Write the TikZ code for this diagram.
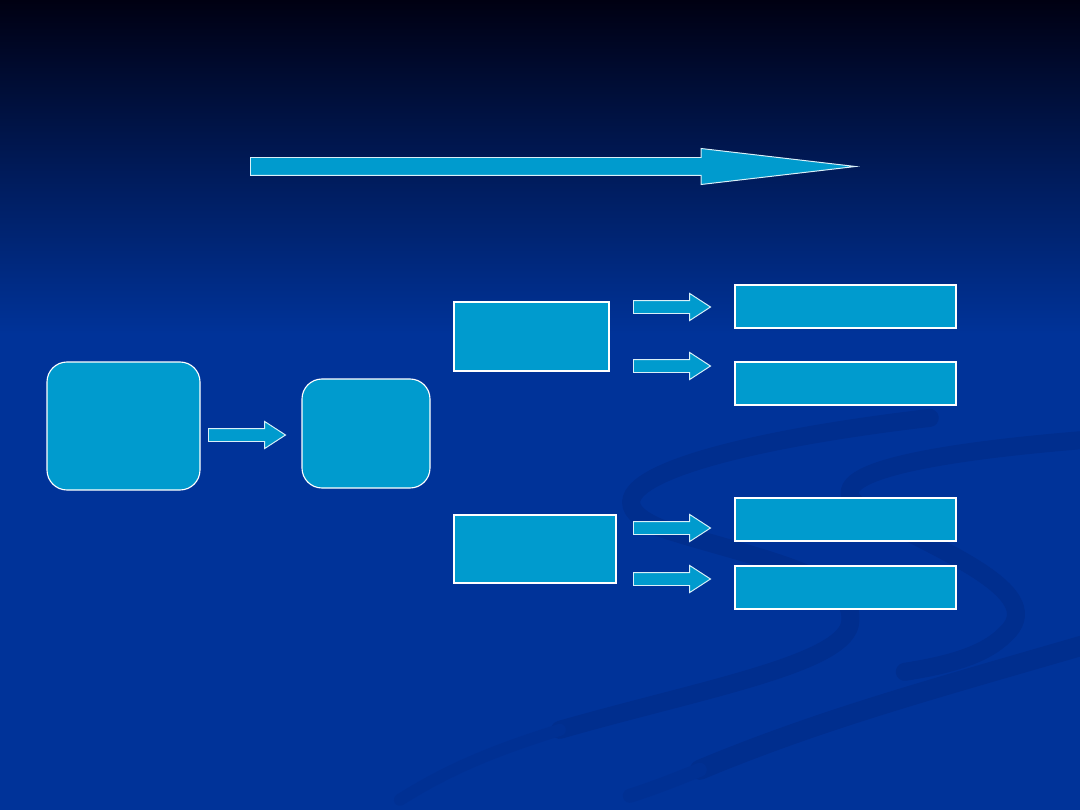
\documentclass[tikz,border=0pt]{standalone}
\usepackage{tikz}
\usepackage{xcolor}
\usetikzlibrary{shapes.arrows, positioning, calc}
\definecolor{slidetop}{RGB}{0,0,18}
\definecolor{slidemid}{RGB}{0,26,88}
\definecolor{slideblue}{RGB}{0,51,153}
\definecolor{swirlblue}{RGB}{0,46,142}
\definecolor{swirlfaint}{RGB}{0,48,147}
\definecolor{boxcyan}{RGB}{0,155,206}

\begin{document}
\begin{tikzpicture}[
        rbox/.style={draw=white, fill=boxcyan, line width=0.8pt, rounded corners=0.5cm,
                     inner sep=0pt},
        sbox/.style={draw=white, fill=boxcyan, line width=0.8pt, inner sep=0pt},
        fatarr/.style={single arrow, draw=white!85!boxcyan, fill=boxcyan, line width=0.7pt,
                       inner xsep=0pt, inner ysep=0.15cm, minimum height=1.925cm, anchor=tail,
                       single arrow head extend=0.175cm, single arrow tip angle=66},
        swirl/.style={draw=swirlblue, line cap=round}
      ]
        % background
        \useasboundingbox (0,0) rectangle (27,20.25);
        \fill[slideblue] (0,0) rectangle (27,20.25);
        \shade[top color=slidetop, bottom color=slideblue, middle color=slidemid]
          (0,11.9) rectangle (27,20.25);
        \begin{scope}
          \clip (0,0) rectangle (27,20.25);
          \begin{scope}[shift={(0,20.25)}, x=0.025cm, y=-0.025cm]
            \draw[swirl, line width=0.45cm] (930,418) .. controls (700,445) and (570,490) .. (660,528)
              .. controls (760,560) and (860,575) .. (850,625) .. controls (840,665) and (700,690) .. (560,730);
            \draw[swirl, draw=swirlfaint, line width=0.3cm] (560,730) .. controls (480,755) and (440,775) .. (400,800);
            \draw[swirl, line width=0.45cm] (1085,440) .. controls (900,455) and (800,480) .. (875,515)
              .. controls (950,555) and (1050,595) .. (1005,635) .. controls (985,655) and (950,665) .. (905,672);
            \draw[swirl, line width=0.5cm] (1085,645) .. controls (930,690) and (820,720) .. (700,770);
            \draw[swirl, draw=swirlfaint, line width=0.35cm] (700,770) .. controls (675,780) and (655,788) .. (630,796);
          \end{scope}
        \end{scope}

        % timeline arrow
        \node[single arrow, draw=white!85!boxcyan, fill=boxcyan, line width=0.7pt, anchor=tail,
              inner xsep=0pt, inner ysep=0.2125cm, minimum height=15.125cm,
              single arrow head extend=0.225cm, single arrow tip angle=13.3] (time) at (6.25,16.0875) {};

        \node[rbox, minimum width=3.825cm, minimum height=3.2cm] (src) at (3.0875,9.6) {};
        \node[rbox, minimum width=3.2cm, minimum height=2.725cm] (mid) at (9.15,9.4125) {};
        \node[sbox, minimum width=3.875cm, minimum height=1.725cm] (up) at (13.2875,11.8375) {};
        \node[sbox, minimum width=4.05cm, minimum height=1.7cm] (low) at (13.375,6.525) {};
        \node[sbox, minimum width=5.525cm, minimum height=1.075cm] (outa) at (21.1375,12.5875) {};
        \node[sbox, minimum width=5.525cm, minimum height=1.075cm] (outb) at (21.1375,10.6625) {};
        \node[sbox, minimum width=5.525cm, minimum height=1.075cm] (outc) at (21.1375,7.2625) {};
        \node[sbox, minimum width=5.525cm, minimum height=1.075cm] (outd) at (21.1375,5.5625) {};

        \node[fatarr] (srcmid) at (5.2,9.375) {};
        \node[fatarr] (upa) at (15.825,12.575) {};
        \node[fatarr] (upb) at (15.825,11.1) {};
        \node[fatarr] (lowc) at (15.825,7.05) {};
        \node[fatarr] (lowd) at (15.825,5.775) {};
      \end{tikzpicture}
\end{document}
